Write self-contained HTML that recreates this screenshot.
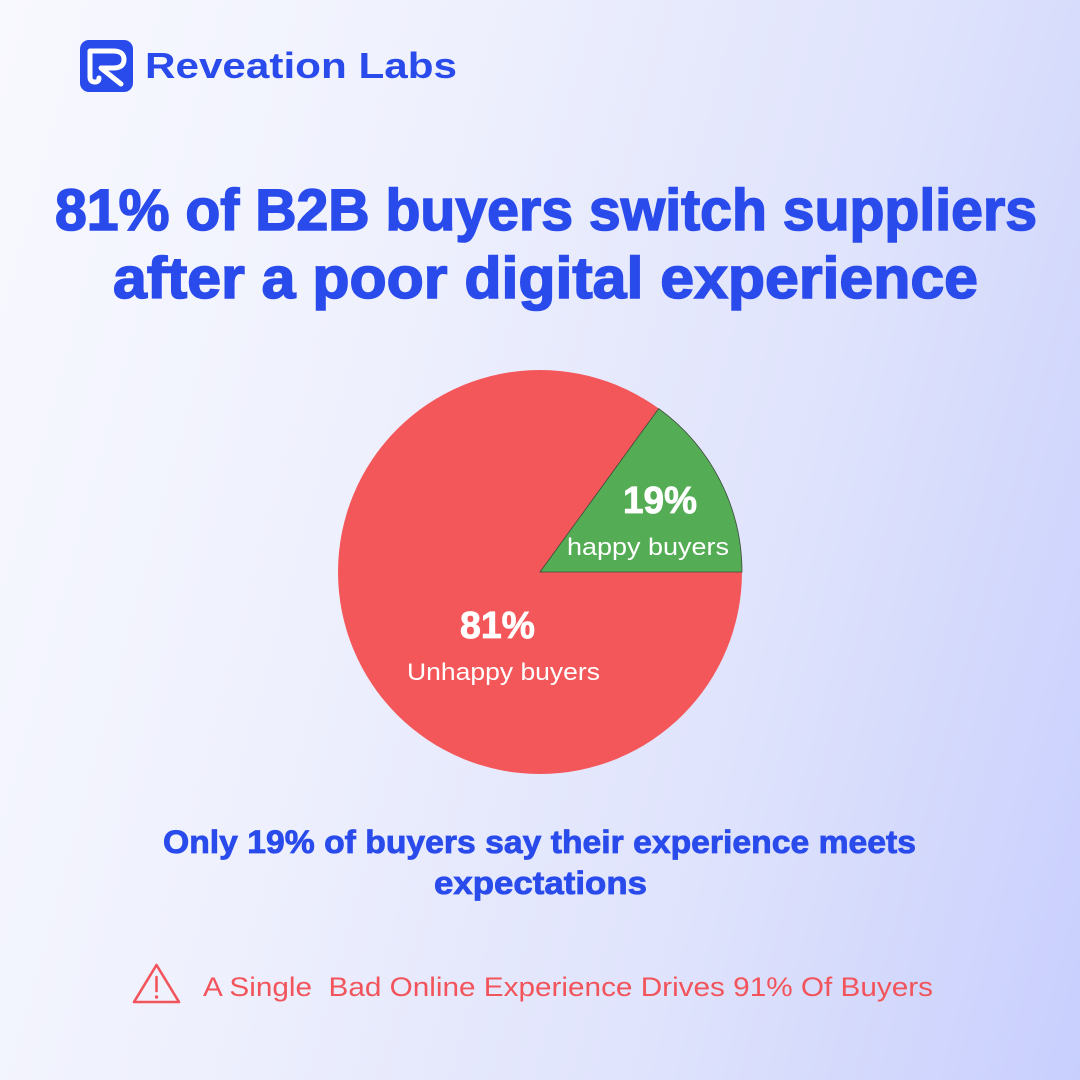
<!DOCTYPE html>
<html>
<head>
<meta charset="utf-8">
<style>
  html,body{margin:0;padding:0;}
  body{width:1080px;height:1080px;overflow:hidden;
    background:linear-gradient(105deg,#f8f9fe 0%,#eef0fd 35%,#dfe3fc 68%,#c8cffd 100%);}
  svg{display:block;}
  text{font-family:"Liberation Sans",sans-serif;}
</style>
</head>
<body>
<svg width="1080" height="1080" viewBox="0 0 1080 1080" xmlns="http://www.w3.org/2000/svg">
  <!-- Logo -->
  <rect x="80" y="40" width="53" height="52" rx="9" fill="#2a4bec"/>
  <path d="M99 78 Q99 82 95 82 Q90 82 90 77 V51 H113 Q124 51 124 59.5 Q124 68 113 68 H101 L121 84" fill="none" stroke="#fff" stroke-width="5" stroke-linecap="round" stroke-linejoin="round"/>
  <text x="145" y="78" font-size="36" font-weight="bold" fill="#2a4bec" textLength="312" lengthAdjust="spacingAndGlyphs">Reveation Labs</text>

  <!-- Title -->
  <text x="55" y="230" font-size="58" font-weight="bold" fill="#2a4bec" stroke="#2a4bec" stroke-width="1.6" textLength="982" lengthAdjust="spacingAndGlyphs">81% of B2B buyers switch suppliers</text>
  <text x="113" y="298" font-size="58" font-weight="bold" fill="#2a4bec" stroke="#2a4bec" stroke-width="1.6" textLength="865" lengthAdjust="spacingAndGlyphs">after a poor digital experience</text>

  <!-- Pie -->
  <circle cx="540" cy="572" r="202" fill="#f45759"/>
  <path d="M540 572 L742 572 A202 202 0 0 0 658.7 408.6 Z" fill="#54ad54" stroke="#3d4a3d" stroke-width="0.8"/>

  <text x="623" y="513" font-size="38" font-weight="bold" fill="#ffffff" stroke="#ffffff" stroke-width="0.8" textLength="74" lengthAdjust="spacingAndGlyphs">19%</text>
  <text x="567" y="555" font-size="24" fill="#ffffff" textLength="162" lengthAdjust="spacingAndGlyphs">happy buyers</text>
  <text x="460" y="638" font-size="38" font-weight="bold" fill="#ffffff" stroke="#ffffff" stroke-width="0.8" textLength="75" lengthAdjust="spacingAndGlyphs">81%</text>
  <text x="407" y="680" font-size="24" fill="#ffffff" textLength="193" lengthAdjust="spacingAndGlyphs">Unhappy buyers</text>

  <!-- Subtitle -->
  <text x="163" y="853" font-size="32" font-weight="bold" fill="#2a4bec" stroke="#2a4bec" stroke-width="0.8" textLength="753" lengthAdjust="spacingAndGlyphs">Only 19% of buyers say their experience meets</text>
  <text x="434" y="894" font-size="32" font-weight="bold" fill="#2a4bec" stroke="#2a4bec" stroke-width="0.8" textLength="213" lengthAdjust="spacingAndGlyphs">expectations</text>

  <!-- Warning -->
  <path d="M156.5 965 L179 1002 L134 1002 Z" fill="none" stroke="#f2545b" stroke-width="2.6" stroke-linejoin="round"/>
  <line x1="156.5" y1="977" x2="156.5" y2="991" stroke="#f2545b" stroke-width="2.6" stroke-linecap="round"/>
  <circle cx="156.5" cy="997" r="1.7" fill="#f2545b"/>
  <text x="203" y="996" font-size="27" fill="#f2545b" style="white-space:pre" textLength="730" lengthAdjust="spacingAndGlyphs">A Single  Bad Online Experience Drives 91% Of Buyers</text>
</svg>
</body>
</html>
